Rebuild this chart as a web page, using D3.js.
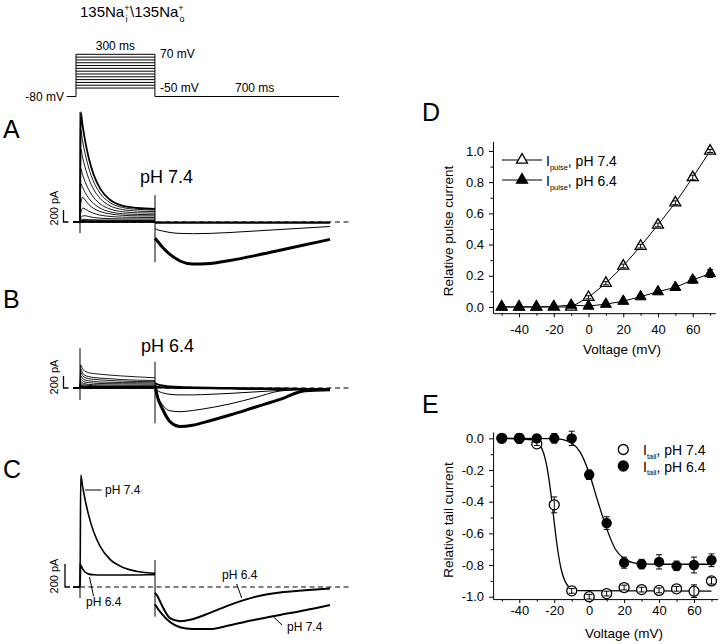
<!DOCTYPE html>
<html>
<head>
<meta charset="utf-8">
<script src="https://cdn.jsdelivr.net/npm/d3@7/dist/d3.min.js"></script>
<style>
html,body{margin:0;padding:0;background:#fff;}
svg{display:block;}
text{font-family:"Liberation Sans",Arial,Helvetica,sans-serif;fill:#000;}
.gray{opacity:0.999;}
</style>
</head>
<body>
<svg id="fig" width="720" height="644"></svg>
<script>
// ================= DATA =================
// voltage protocol
const stepVoltages = [-50,-40,-30,-20,-10,0,10,20,30,40,50,60,70]; // mV
const holdingVoltage = -80;
const pulseDuration = 300; // ms
const tailDuration = 700;  // ms

// current traces (pA) ; time in ms from pulse onset
const pulseTime = [0,3,10,20,35,55,80,120,170,230,300];
const tailTime  = [0,10,30,60,100,150,220,300,400,500,600,700]; // ms after pulse end

// Panel A (pH 7.4), one pulse trace per step voltage
const pulseA = [
 [0,0,0,0,0,0,0,0,0,0,0],
 [0,3,3,3,3,3,3,3,3,3,3],
 [0,8,8,8,8,8,8,8,8,8,8],
 [0,15,18,18,17,16,16,15,15,15,15],
 [0,30,45,45,40,37,34,32,31,30,30],
 [0,60,100,105,90,75,64,56,52,51,50],
 [0,150,230,220,180,145,115,93,81,77,75],
 [0,300,415,370,290,225,175,135,112,103,101],
 [0,640,580,495,396,305,232,170,138,126,121],
 [0,890,792,675,538,408,304,217,171,153,147],
 [0,1220,1082,918,723,541,395,271,207,182,173],
 [0,1530,1355,1146,899,666,481,323,242,210,199],
 [0,1830,1618,1365,1066,785,561,370,272,233,220]
];
const tailA_low = [-10,-10,-10,-10,-10,-10,-10,-10,-10,-10,-10,-10];
const tailA_m20 = [-110,-130,-150,-175,-190,-195,-190,-175,-150,-125,-100,-75];
const tailA_sat = [-270,-320,-420,-540,-650,-700,-690,-640,-560,-470,-380,-290];
const artifactA = [1830,-185,450,-670]; // on top, on bottom, off top, off bottom

// Panel B (pH 6.4)
const pulseB = [
 [0,5,3,2,2,2,2,2,2,2,2],
 [0,8,5,4,4,4,4,4,4,4,4],
 [0,12,8,6,6,6,6,6,6,6,6],
 [0,18,12,10,10,10,10,10,10,10,10],
 [0,25,18,15,13,12,12,12,12,12,12],
 [0,45,35,28,25,22,21,20,20,20,20],
 [0,75,60,50,42,38,35,33,32,31,30],
 [0,110,85,70,60,55,52,50,48,47,45],
 [0,150,120,100,90,80,75,72,70,68,65],
 [0,200,160,135,120,110,100,95,90,88,85],
 [0,260,205,175,155,145,135,125,115,108,105],
 [0,320,250,210,190,175,165,155,140,130,125],
 [0,385,320,280,255,240,230,215,200,185,170]
];
const tailB_low1 = [80,60,40,25,15,10,5,0,-5,-10,-15,-20];
const tailB_low2 = [20,15,10,5,0,0,-5,-10,-15,-15,-20,-20];
const tailB_0mV  = [30,-40,-80,-105,-115,-115,-105,-90,-65,-40,-25,-20];
const tailB_10mV = [50,-120,-280,-380,-395,-375,-330,-265,-160,-50,-25,-20];
const tailB_sat  = [50,-150,-350,-560,-640,-620,-545,-450,-320,-190,-45,-30];
const artifactB = [667,-200,438,-588];

// Panel C (70 mV step, pH 7.4 vs pH 6.4)
const pulseC_74 = [0,974,880,763,621,478,356,240,172,135,120];
const pulseC_64 = [0,191,160,130,112,106,104,104,104,105,107];
const tailC_74  = [-150,-185,-240,-305,-350,-365,-366,-332,-285,-243,-203,-157];
const tailC_64  = [-50,-80,-170,-270,-297,-280,-225,-155,-86,-48,-29,-14];
const artifactC = [209,-96,235,-258];

// Panel D: relative pulse current
const voltageD = [-50,-40,-30,-20,-10,0,10,20,30,40,50,60,70];
const pulse74 = [0,0,0,0,0,0.062,0.152,0.263,0.39,0.526,0.668,0.83,1.0];
const pulse74Err = [0,0,0,0,0,0.01,0.01,0.012,0.012,0.012,0.012,0.015,0.01];
const pulse64 = [0,0,0,0.003,0.012,0.006,0.018,0.037,0.066,0.098,0.126,0.173,0.214];
const pulse64Err = [0,0,0,0,0.006,0,0.006,0.008,0.01,0.01,0.012,0.02,0.025];

// Panel E: relative tail current
const voltageE = [-50,-40,-30,-20,-10,0,10,20,30,40,50,60,70];
const tail74 = [0,0,-0.035,-0.42,-0.963,-1.0,-0.98,-0.942,-0.955,-0.96,-0.95,-0.965,-0.9];
const tail74Err = [0.005,0.005,0.01,0.05,0.015,0.015,0.015,0.015,0.015,0.015,0.015,0.04,0.02];
const tail64 = [0,0,0,0,0,-0.23,-0.535,-0.785,-0.794,-0.78,-0.805,-0.8,-0.77];
const tail64Err = [0.01,0.03,0.025,0.03,0.045,0.03,0.04,0.035,0.03,0.045,0.03,0.05,0.04];
// Boltzmann fit curves
const fit74V = [-50,-32,-30,-28,-26,-24,-22,-21,-20,-19,-18,-16,-14,-12,-10,-6,70];
const fit74  = [0,-0.01,-0.021,-0.046,-0.096,-0.191,-0.342,-0.434,-0.531,-0.623,-0.705,-0.828,-0.898,-0.934,-0.951,-0.962,-0.965];
const fit64V = [-50,-20,-15,-10,-5,0,5,10,15,20,25,30,40,70];
const fit64  = [0,-0.002,-0.008,-0.03,-0.09,-0.22,-0.40,-0.57,-0.70,-0.76,-0.785,-0.792,-0.795,-0.795];

// axis ticks
const xTicksMajor = [-40,-20,0,20,40,60];
const xTicksMinor = [-50,-30,-10,10,30,50,70];
const yTicksD = [0,0.2,0.4,0.6,0.8,1.0];
const yTicksDMinor = [0.1,0.3,0.5,0.7,0.9];
const yTicksE = [0,-0.2,-0.4,-0.6,-0.8,-1.0];
const yTicksEMinor = [-0.1,-0.3,-0.5,-0.7,-0.9];

// ================= DRAW =================
const svg = d3.select("#fig");
const K = "#000";

function addText(x, y, s, size, anchor) {
  return svg.append("text").attr("x", x).attr("y", y).attr("font-size", size)
    .attr("text-anchor", anchor || "start").text(s);
}

// ---- title ----
const title = svg.append("text").attr("x", 80).attr("y", 17).attr("font-size", 15).attr("class", "gray");
title.append("tspan").text("135Na");
title.append("tspan").attr("font-size", 9).attr("dy", -6).text("+");
title.append("tspan").attr("font-size", 9).attr("dx", -4).attr("dy", 11).text("i");
title.append("tspan").attr("dx", 2.5).attr("dy", -5).text("\\135Na");
title.append("tspan").attr("font-size", 9).attr("dy", -6).text("+");
title.append("tspan").attr("font-size", 9).attr("dx", -4).attr("dy", 11).text("o");

// ---- voltage protocol ----
const xP = d3.scaleLinear().domain([0, pulseDuration + tailDuration]).range([76, 339]);
const yP = d3.scaleLinear().domain([holdingVoltage, 70]).range([96.5, 54.3]);
const vMax = d3.max(stepVoltages);
let pd = `M${xP(-35)},${yP(holdingVoltage)}H${xP(0)}V${yP(vMax)}`;
stepVoltages.forEach(v => { pd += `M${xP(0)},${yP(v)}H${xP(pulseDuration)}`; });
pd += `M${xP(pulseDuration)},${yP(vMax)}V${yP(holdingVoltage)}H${xP(pulseDuration + tailDuration)}`;
svg.append("path").attr("d", pd).attr("fill", "none").attr("stroke", K).attr("stroke-width", 1);
addText(64, 101, holdingVoltage + " mV", 12, "end");
addText((xP(0) + xP(pulseDuration)) / 2, 50, pulseDuration + " ms", 12, "middle");
addText(160, 58, vMax + " mV", 12);
addText(160, 92, d3.min(stepVoltages) + " mV", 12);
addText(235, 92, tailDuration + " ms", 12);

// ---- panel letters ----
[["A",3,138],["B",3,308],["C",3,478],["D",422,121],["E",422,413]].forEach(d => addText(d[1], d[2], d[0], 25));

// ---- traces ----
const xT = d3.scaleLinear().domain([-30, 1000]).range([72.5, 330]);
const yA = d3.scaleLinear().domain([0, 200]).range([222, 210]);
const yB = d3.scaleLinear().domain([0, 200]).range([388, 376]);
const yC = d3.scaleLinear().domain([0, 200]).range([587, 564]);
const preT = -28;
const pulsePts = vals => [[preT, 0]].concat(pulseTime.map((t, i) => [t, vals[i]]));
const tailPts = vals => tailTime.map((t, i) => [pulseDuration + t, vals[i]]);
const traceLine = y => d3.line().x(d => xT(d[0])).y(d => y(d[1])).curve(d3.curveMonotoneX);

function drawPath(y, pts, w) {
  svg.append("path").attr("d", traceLine(y)(pts)).attr("fill", "none")
    .attr("stroke", K).attr("stroke-width", w).attr("stroke-linejoin", "round");
}
function vline(x, y1, y2, w) {
  svg.append("line").attr("x1", x).attr("x2", x).attr("y1", y1).attr("y2", y2)
    .attr("stroke", K).attr("stroke-width", w || 1);
}
function zeroLine(y) {
  svg.append("line").attr("x1", xT(0)).attr("x2", 350).attr("y1", y(0)).attr("y2", y(0))
    .attr("stroke", K).attr("stroke-width", 1.2).attr("stroke-dasharray", "5,3.5");
}
function scaleBar(y, xb, labelY) {
  svg.append("path").attr("d", `M${xb},${y(200)}V${y(0)}H${xb + 5}`).attr("fill", "none")
    .attr("stroke", K).attr("stroke-width", 1.3);
  svg.append("text").attr("transform", `translate(58,${labelY}) rotate(-90)`)
    .attr("font-size", 11).attr("text-anchor", "middle").text("200 pA");
}
function artifacts(y, a) {
  vline(xT(0), y(a[0]), y(a[1]), 1);
  vline(xT(pulseDuration), y(a[2]), y(a[3]), 1);
}

// Panel A
zeroLine(yA);
pulseA.forEach((p, i) => drawPath(yA, pulsePts(p), i === pulseA.length - 1 ? 1.8 : (i < 4 ? 1.6 : 0.9)));
drawPath(yA, tailPts(tailA_low), 2.2);
drawPath(yA, tailPts(tailA_m20), 1);
drawPath(yA, tailPts(tailA_sat), 3);
artifacts(yA, artifactA);
scaleBar(yA, 63.5, 208);
addText(140, 183, "pH 7.4", 18);

// Panel B
zeroLine(yB);
pulseB.forEach((p, i) => drawPath(yB, pulsePts(p), i < 6 ? 1.6 : 0.9));
drawPath(yB, tailPts(tailB_low1), 2);
drawPath(yB, tailPts(tailB_low2), 2);
drawPath(yB, tailPts(tailB_0mV), 1);
drawPath(yB, tailPts(tailB_10mV), 1);
drawPath(yB, tailPts(tailB_sat), 3);
artifacts(yB, artifactB);
scaleBar(yB, 63.5, 377);
addText(141, 352, "pH 6.4", 18);

// Panel C
zeroLine(yC);
drawPath(yC, pulsePts(pulseC_74), 1.6);
drawPath(yC, pulsePts(pulseC_64), 1.6);
drawPath(yC, tailPts(tailC_74), 2);
drawPath(yC, tailPts(tailC_64), 2);
artifacts(yC, artifactC);
scaleBar(yC, 65, 576);
function leader(x1, y1, x2, y2) {
  svg.append("line").attr("x1", x1).attr("y1", y1).attr("x2", x2).attr("y2", y2)
    .attr("stroke", K).attr("stroke-width", 1);
}
addText(105, 494, "pH 7.4", 12); leader(85, 490, 101.5, 490);
addText(86, 606, "pH 6.4", 12); leader(89.5, 577, 93.5, 596);
addText(222, 579, "pH 6.4", 12); leader(236.7, 584, 241.7, 598);
addText(287, 631, "pH 7.4", 12); leader(273.3, 616.7, 282, 625);

// ---- scatter charts ----
function drawAxes(x, y, yMaj, yMin, xPad, yFmt) {
  const g = svg.append("g");
  const bottom = y.range()[0];
  const left = x.range()[0];
  g.append("g").attr("transform", `translate(0,${bottom})`)
    .call(d3.axisBottom(x).tickValues(xTicksMajor).tickSize(4).tickSizeOuter(0).tickPadding(xPad).tickFormat(d => String(d)));
  g.append("g").attr("transform", `translate(0,${bottom})`)
    .call(d3.axisBottom(x).tickValues(xTicksMinor).tickSize(2.5).tickSizeOuter(0).tickFormat(""))
    .select(".domain").remove();
  g.append("g").attr("transform", `translate(${left},0)`)
    .call(d3.axisLeft(y).tickValues(yMaj).tickSize(4).tickSizeOuter(0).tickPadding(5).tickFormat(yFmt));
  g.append("g").attr("transform", `translate(${left},0)`)
    .call(d3.axisLeft(y).tickValues(yMin).tickSize(2.5).tickSizeOuter(0).tickFormat(""))
    .select(".domain").remove();
  g.selectAll("text").attr("font-size", 13).attr("font-family", '"Liberation Sans",Arial,sans-serif').attr("fill", K);
  g.selectAll("line,path").attr("stroke", K).attr("stroke-width", 1);
  return g;
}
function errorBars(x, y, xs, ys, es) {
  xs.forEach((v, i) => {
    if (!es[i]) return;
    const cx = x(v), y1 = y(ys[i] + es[i]), y2 = y(ys[i] - es[i]);
    svg.append("path").attr("d", `M${cx},${y1}V${y2}M${cx - 3},${y1}H${cx + 3}M${cx - 3},${y2}H${cx + 3}`)
      .attr("fill", "none").attr("stroke", K).attr("stroke-width", 1);
  });
}
const plainLine = (x, y) => d3.line().x(d => x(d[0])).y(d => y(d[1]));
const smoothLine = (x, y) => d3.line().x(d => x(d[0])).y(d => y(d[1])).curve(d3.curveMonotoneX);
const tri = d3.symbol().type(d3.symbolTriangle).size(52);

// Panel D
const xD = d3.scaleLinear().domain([-55, 73]).range([493, 715.3]);
const yD = d3.scaleLinear().domain([-0.04, 1.06]).range([313.2, 141.6]);
drawAxes(xD, yD, yTicksD, yTicksDMinor, 8, d => d.toFixed(1));
[pulse74, pulse64].forEach(s => {
  svg.append("path").attr("d", plainLine(xD, yD)(voltageD.map((v, i) => [v, s[i]])))
    .attr("fill", "none").attr("stroke", K).attr("stroke-width", 1);
});
voltageD.forEach((v, i) => {
  svg.append("path").attr("d", tri()).attr("transform", `translate(${xD(v)},${yD(pulse74[i])})`)
    .attr("fill", "#fff").attr("stroke", K).attr("stroke-width", 1.3);
});
errorBars(xD, yD, voltageD, pulse74, pulse74Err);
voltageD.forEach((v, i) => {
  svg.append("path").attr("d", tri()).attr("transform", `translate(${xD(v)},${yD(pulse64[i])})`)
    .attr("fill", K).attr("stroke", K).attr("stroke-width", 1);
});
errorBars(xD, yD, voltageD, pulse64, pulse64Err);
// legend D
[[160, "#fff"], [180, K]].forEach((r, i) => {
  svg.append("line").attr("x1", 502).attr("x2", 542).attr("y1", r[0]).attr("y2", r[0]).attr("stroke", K);
  svg.append("path").attr("d", tri()).attr("transform", `translate(522,${r[0]})`)
    .attr("fill", r[1]).attr("stroke", K).attr("stroke-width", 1.3);
  const t = svg.append("text").attr("x", 546).attr("y", r[0] + 6).attr("font-size", 14).attr("class", "gray");
  t.append("tspan").text("I");
  t.append("tspan").attr("font-size", 7.5).attr("dy", 3.5).text("pulse");
  t.append("tspan").attr("dy", -3.5).text(i === 0 ? ", pH 7.4" : ", pH 6.4");
});
svg.append("text").attr("transform", "translate(453,231) rotate(-90)").attr("font-size", 13.5)
  .attr("text-anchor", "middle").text("Relative pulse current");
addText(622, 354, "Voltage (mV)", 13.5, "middle");

// Panel E
const xE = d3.scaleLinear().domain([-55, 73.5]).range([493.1, 717.6]);
const yE = d3.scaleLinear().domain([-1.015, 0.04]).range([599.1, 432.0]);
drawAxes(xE, yE, yTicksE, yTicksEMinor, 3, d => d.toFixed(1));
svg.append("path").attr("d", smoothLine(xE, yE)(fit74V.map((v, i) => [v, fit74[i]])))
  .attr("fill", "none").attr("stroke", K).attr("stroke-width", 1.3);
svg.append("path").attr("d", smoothLine(xE, yE)(fit64V.map((v, i) => [v, fit64[i]])))
  .attr("fill", "none").attr("stroke", K).attr("stroke-width", 1.3);
voltageE.forEach((v, i) => {
  svg.append("circle").attr("cx", xE(v)).attr("cy", yE(tail74[i])).attr("r", 5)
    .attr("fill", "#fff").attr("stroke", K).attr("stroke-width", 1.3);
});
errorBars(xE, yE, voltageE, tail74, tail74Err);
voltageE.forEach((v, i) => {
  svg.append("circle").attr("cx", xE(v)).attr("cy", yE(tail64[i])).attr("r", 5.2).attr("fill", K);
});
errorBars(xE, yE, voltageE, tail64, tail64Err);
// legend E
[[449.5, "#fff"], [466, K]].forEach((r, i) => {
  svg.append("circle").attr("cx", 623.3).attr("cy", r[0]).attr("r", 5)
    .attr("fill", r[1]).attr("stroke", K).attr("stroke-width", 1.3);
  const t = svg.append("text").attr("x", 643).attr("y", r[0] + 5.5).attr("font-size", 14).attr("class", "gray");
  t.append("tspan").text("I");
  t.append("tspan").attr("font-size", 7.5).attr("dy", 3.5).text("tail");
  t.append("tspan").attr("dy", -3.5).text(i === 0 ? ", pH 7.4" : ", pH 6.4");
});
svg.append("text").attr("transform", "translate(453,520) rotate(-90)").attr("font-size", 13.5)
  .attr("text-anchor", "middle").text("Relative tail current");
addText(624, 638, "Voltage (mV)", 13.5, "middle");
</script>
</body>
</html>
